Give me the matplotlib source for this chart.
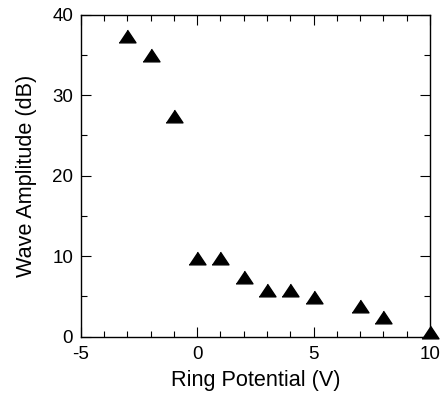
import matplotlib
matplotlib.use('Agg')
import matplotlib.pyplot as plt
from matplotlib.ticker import MultipleLocator

# ring potential (V) vs wave amplitude (dB)
ring_potential = [-3, -2, -1, 0, 1, 2, 3, 4, 5, 7, 8, 10]
wave_amplitude = [37.4, 35.0, 27.4, 9.8, 9.8, 7.4, 5.8, 5.8, 4.9, 3.8, 2.4, 0.5]

plt.rcParams['font.family'] = ['Liberation Sans', 'DejaVu Sans']
plt.rcParams['axes.unicode_minus'] = False  # reference uses a plain hyphen

fig = plt.figure(figsize=(4.45, 3.94), dpi=100)
ax = fig.add_axes([80.7/445, 1 - 336.5/394, (430 - 80.7)/445, (336.5 - 14.7)/394])

tri = [(-1, -0.75), (1, -0.75), (0, 0.75)]  # flatter triangle than '^'
ax.plot(ring_potential, wave_amplitude, linestyle='none', marker=tri,
        markersize=12.2, color='black', clip_on=False)

ax.set_xlim(-5, 10)
ax.set_ylim(0, 40)
ax.xaxis.set_major_locator(MultipleLocator(5))
ax.xaxis.set_minor_locator(MultipleLocator(1))
ax.yaxis.set_major_locator(MultipleLocator(10))
ax.yaxis.set_minor_locator(MultipleLocator(5))
ax.tick_params(which='both', direction='in', top=True, right=True, width=0.8,
               labelsize=13.5)
ax.tick_params(axis='x', pad=7)
ax.tick_params(axis='y', pad=5.5)
ax.tick_params(which='major', length=7)
ax.tick_params(which='minor', length=4)
for s in ax.spines.values():
    s.set_linewidth(1.0)

ax.set_xlabel('Ring Potential (V)', fontsize=15.6, labelpad=5)
ax.set_ylabel('Wave Amplitude (dB)', fontsize=15.6, labelpad=11)

fig.savefig('out.png', dpi=100)
